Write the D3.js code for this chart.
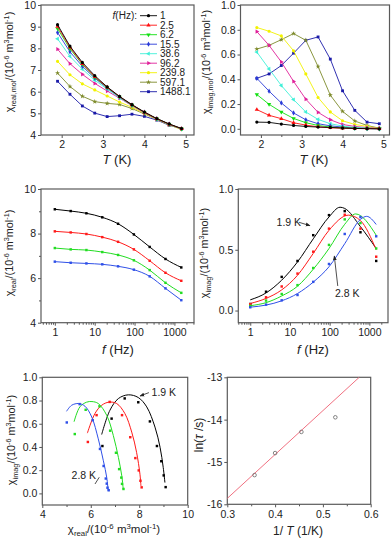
<!DOCTYPE html>
<html>
<head>
<meta charset="utf-8">
<script src="https://cdn.jsdelivr.net/npm/d3@7"></script>
<style>
  body { margin: 0; background: #fff; }
  svg { display: block; font-family: "Liberation Sans", Arial, sans-serif; }
</style>
</head>
<body>
<svg id="chart" width="391" height="542"></svg>
<script>
// ---------------- data ----------------
const tempsK = [1.9, 2.2, 2.5, 2.8, 3.1, 3.4, 3.7, 4.0, 4.3, 4.6, 4.9];
const freqsHz = [1, 2.5, 6.2, 15.5, 38.6, 96.2, 239.8, 597.1, 1488.1];
const freqLabels = ["1", "2.5", "6.2", "15.5", "38.6", "96.2", "239.8", "597.1", "1488.1"];

// chi' (10^-6 m3/mol), one row per frequency, columns follow tempsK
const chiRealByFreq = [
  [9.09, 8.10, 7.35, 6.74, 6.22, 5.78, 5.40, 5.06, 4.76, 4.51, 4.30],
  [9.01, 8.05, 7.29, 6.69, 6.20, 5.77, 5.39, 5.05, 4.75, 4.50, 4.29],
  [8.91, 7.98, 7.26, 6.66, 6.19, 5.76, 5.38, 5.05, 4.75, 4.50, 4.29],
  [8.73, 7.84, 7.17, 6.62, 6.17, 5.75, 5.38, 5.05, 4.75, 4.50, 4.28],
  [8.44, 7.63, 7.04, 6.53, 6.12, 5.72, 5.37, 5.04, 4.74, 4.48, 4.28],
  [7.96, 7.29, 6.80, 6.38, 6.03, 5.70, 5.35, 5.02, 4.73, 4.48, 4.28],
  [7.40, 6.78, 6.36, 6.08, 5.80, 5.52, 5.28, 5.00, 4.72, 4.47, 4.25],
  [6.86, 6.24, 5.79, 5.54, 5.46, 5.41, 5.22, 4.97, 4.72, 4.47, 4.28],
  [6.48, 5.88, 5.34, 5.01, 4.85, 4.89, 4.96, 4.86, 4.69, 4.45, 4.29]
];

// chi'' (10^-6 m3/mol), one row per frequency
const chiImagByFreq = [
  [0.054, 0.052, 0.038, 0.027, 0.019, 0.014, 0.011, 0.006, 0.003, 0.001, 0.000],
  [0.155, 0.109, 0.082, 0.049, 0.030, 0.016, 0.008, 0.005, 0.003, 0.002, 0.001],
  [0.277, 0.198, 0.136, 0.084, 0.049, 0.027, 0.014, 0.008, 0.004, 0.003, 0.001],
  [0.408, 0.304, 0.209, 0.128, 0.073, 0.041, 0.024, 0.014, 0.005, 0.002, 0.000],
  [0.620, 0.484, 0.350, 0.236, 0.136, 0.076, 0.041, 0.022, 0.011, 0.005, 0.002],
  [0.785, 0.674, 0.540, 0.383, 0.239, 0.133, 0.073, 0.035, 0.019, 0.010, 0.003],
  [0.818, 0.788, 0.750, 0.630, 0.443, 0.253, 0.136, 0.065, 0.035, 0.020, 0.003],
  [0.644, 0.674, 0.720, 0.769, 0.715, 0.503, 0.272, 0.141, 0.063, 0.027, 0.005],
  [0.408, 0.443, 0.511, 0.611, 0.715, 0.742, 0.563, 0.307, 0.149, 0.054, 0.041]
];

// temperatures used in the frequency and Cole-Cole panels (column index into tempsK)
const lowTempIdx = [0, 1, 2, 3];

// fitted chi'' vs f curves, [f, chi'']
const fitImagVsF = [
  [[1, 0.088], [2.5, 0.145], [6.2, 0.25], [15.5, 0.40], [38.6, 0.59], [96.2, 0.77], [183, 0.85], [239.8, 0.84], [597.1, 0.69], [1488.1, 0.51]],
  [[1, 0.058], [2.5, 0.10], [6.2, 0.17], [15.5, 0.29], [38.6, 0.47], [96.2, 0.66], [298, 0.785], [597.1, 0.74], [1488.1, 0.50]],
  [[1, 0.04], [2.5, 0.065], [6.2, 0.12], [15.5, 0.20], [38.6, 0.34], [96.2, 0.51], [239.8, 0.71], [450, 0.795], [1488.1, 0.62]],
  [[1, 0.028], [2.5, 0.045], [6.2, 0.08], [15.5, 0.14], [38.6, 0.234], [96.2, 0.36], [239.8, 0.55], [597.1, 0.75], [855, 0.775], [1488.1, 0.708]]
];

// fitted Cole-Cole arcs, [chi', chi'']
const fitColeCole = [
  [[6.45, 0.507], [6.79, 0.716], [7.14, 0.817], [7.55, 0.849], [7.96, 0.826], [8.31, 0.745], [8.65, 0.571], [8.86, 0.397], [8.99, 0.223], [9.06, 0.093]],
  [[5.86, 0.519], [6.17, 0.687], [6.45, 0.759], [6.75, 0.786], [7.07, 0.774], [7.41, 0.687], [7.69, 0.528], [7.89, 0.354], [8.03, 0.165], [8.07, 0.064]],
  [[5.31, 0.617], [5.55, 0.745], [5.83, 0.786], [6.05, 0.791], [6.31, 0.774], [6.66, 0.672], [6.93, 0.499], [7.14, 0.31], [7.28, 0.151], [7.34, 0.035]],
  [[5.0, 0.707], [5.21, 0.759], [5.5, 0.774], [5.76, 0.751], [6.04, 0.658], [6.31, 0.47], [6.52, 0.281], [6.66, 0.136], [6.72, 0.02]]
];

// Arrhenius plot
const invT = [0.357, 0.400, 0.455, 0.526];
const lnTau = [-15.31, -14.79, -14.29, -13.945];
const arrheniusX = [0.30, 0.576];
const arrheniusY = [-15.86, -13.0];

// ---------------- styles ----------------
const freqColors = ["#000000", "#ff1010", "#10e010", "#2a3bd8", "#40f0d8", "#e0209a", "#f2f200", "#7d8a2a", "#1a1aa8"];
const freqSymbols = [d3.symbolCircle, d3.symbolTriangle, d3.symbolTriangle, d3.symbolDiamond, d3.symbolTriangle,
                     d3.symbolTriangle, d3.symbolCircle, d3.symbolStar, d3.symbolSquare];
const freqSymRot = [0, 0, 180, 0, -90, 90, 0, 0, 0];
const tempColors = ["#000000", "#ff1a1a", "#22dd22", "#2f50e8"];

const svg = d3.select("#chart");
const TICK_FS = 10.5, TITLE_FS = 10.8;

const defs = svg.append("defs");
defs.append("marker").attr("id", "arrow")
  .attr("viewBox", "0 0 10 10").attr("refX", 9).attr("refY", 5)
  .attr("markerWidth", 6).attr("markerHeight", 6).attr("orient", "auto")
  .append("path").attr("d", "M0,1L10,5L0,9z").attr("fill", "#222");

// rich text: parts = [[string, kind]] kind: sub | sup | i
function rich(text, parts, fs) {
  let shift = 0;
  parts.forEach(([s, kind]) => {
    const t = text.append("tspan").text(s);
    const target = kind === "sub" ? fs * 0.28 : kind === "sup" ? -fs * 0.38 : 0;
    t.attr("dy", target - shift);
    shift = target;
    if (kind === "sub" || kind === "sup") t.attr("font-size", fs * 0.68);
    if (kind === "i") t.attr("font-style", "italic");
  });
}

function yTitle(x, y, parts, fs = TITLE_FS) {
  const t = svg.append("text")
    .attr("transform", `translate(${x},${y}) rotate(-90)`)
    .attr("text-anchor", "middle").attr("font-size", fs).attr("fill", "#222");
  rich(t, parts, fs);
}

function xTitle(x, y, parts, fs = TITLE_FS) {
  const t = svg.append("text").attr("x", x).attr("y", y)
    .attr("text-anchor", "middle").attr("font-size", fs).attr("fill", "#222");
  rich(t, parts, fs);
}

function styleAxis(g) {
  g.select(".domain").remove();
  g.selectAll(".tick line").attr("stroke", "#555");
  g.selectAll(".tick text").attr("font-size", TICK_FS).attr("fill", "#222")
    .attr("font-family", "Liberation Sans, Arial, sans-serif");
}

function panel(box, x, y, o) {
  svg.append("g").attr("transform", `translate(0,${box.b})`)
    .call(d3.axisBottom(x).tickValues(o.xTicks).tickSize(3).tickPadding(3).tickFormat(o.xFmt || (d => d)))
    .call(styleAxis);
  if (o.xMinor) svg.append("g").attr("transform", `translate(0,${box.b})`)
    .call(d3.axisBottom(x).tickValues(o.xMinor).tickSize(2).tickFormat(""))
    .call(styleAxis);
  svg.append("g").attr("transform", `translate(${box.l},0)`)
    .call(d3.axisLeft(y).tickValues(o.yTicks).tickSize(3).tickPadding(2).tickFormat(o.yFmt || (d => d)))
    .call(styleAxis);
  if (o.yMinor) svg.append("g").attr("transform", `translate(${box.l},0)`)
    .call(d3.axisLeft(y).tickValues(o.yMinor).tickSize(2).tickFormat(""))
    .call(styleAxis);
  svg.append("rect").attr("x", box.l).attr("y", box.t)
    .attr("width", box.r - box.l).attr("height", box.b - box.t)
    .attr("fill", "none").attr("stroke", "#5a5a5a").attr("stroke-width", 1.2);
  return svg.append("g");
}

function logMinor(lo, hi) {
  const out = [];
  for (let e = -1; e <= 3; e++) for (let m = 2; m <= 9; m++) {
    const v = m * Math.pow(10, e);
    if (v >= lo && v <= hi) out.push(v);
  }
  return out;
}

function marker(g, sym, rot, size, color, px, py) {
  g.append("path")
    .attr("d", d3.symbol(sym, size)())
    .attr("transform", `translate(${px},${py}) rotate(${rot})`)
    .attr("fill", color);
}

// lines + markers vs temperature; drawn high frequency first so low ones sit on top
function drawTSeries(g, x, y, rows) {
  for (let i = rows.length - 1; i >= 0; i--) {
    const pts = rows[i].map((v, j) => [tempsK[j], v]);
    g.append("path")
      .attr("d", d3.line().x(d => x(d[0])).y(d => y(d[1]))(pts))
      .attr("fill", "none").attr("stroke", freqColors[i]).attr("stroke-width", 0.9);
    pts.forEach(d => marker(g, freqSymbols[i], freqSymRot[i], 8, freqColors[i], x(d[0]), y(d[1])));
  }
}

const f1 = d3.format(".1f");
const chiUnit = [["/(10"], ["-6", "sup"], [" m"], ["3", "sup"], ["mol"], ["-1", "sup"], [")"]];

// ---------------- panel 1: chi' vs T ----------------
const b1 = { l: 41, r: 194, t: 5, b: 135 };
const x1 = d3.scaleLinear([1.5, 5.2], [b1.l, b1.r]);
const y1 = d3.scaleLinear([4, 10], [b1.b, b1.t]);
const g1 = panel(b1, x1, y1, { xTicks: [2, 3, 4, 5], xMinor: [2.5, 3.5, 4.5], yTicks: [4, 5, 6, 7, 8, 9, 10] });
drawTSeries(g1, x1, y1, chiRealByFreq);

// legend
const lg = svg.append("g").attr("font-size", 10).attr("fill", "#222");
const lgT = lg.append("text").attr("x", 137).attr("y", 19.3).attr("text-anchor", "end");
rich(lgT, [["f", "i"], ["(Hz):"]], 10.5);
freqLabels.forEach((lab, i) => {
  const yy = 15.7 + i * 9.5;
  lg.append("line").attr("x1", 140).attr("x2", 157).attr("y1", yy).attr("y2", yy)
    .attr("stroke", freqColors[i]).attr("stroke-width", 0.9);
  marker(lg, freqSymbols[i], freqSymRot[i], 8, freqColors[i], 148.5, yy);
  lg.append("text").attr("x", 160).attr("y", yy + 3.6).text(lab);
});

yTitle(13, 62, [["χ"], ["real,mol", "sub"], ...chiUnit]);
xTitle(117, 164, [["T", "i"], [" (K)"]], 13);

// ---------------- panel 2: chi'' vs T ----------------
const b2 = { l: 240.5, r: 389.5, t: 5, b: 135 };
const x2 = d3.scaleLinear([1.5, 5.15], [b2.l, b2.r]);
const y2 = d3.scaleLinear([-0.05, 1.0], [b2.b, b2.t]);
const g2 = panel(b2, x2, y2, { xTicks: [2, 3, 4, 5], xMinor: [2.5, 3.5, 4.5], yTicks: [0, 0.2, 0.4, 0.6, 0.8, 1.0], yFmt: f1 });
drawTSeries(g2, x2, y2, chiImagByFreq);
yTitle(210, 62, [["χ"], ["imag,mol", "sub"], ...chiUnit]);
xTitle(314, 164, [["T", "i"], [" (K)"]], 13);

// ---------------- panel 3: chi' vs f ----------------
const b3 = { l: 41, r: 194, t: 189, b: 322.7 };
const x3 = d3.scaleLog([0.45, 3100], [b3.l, b3.r]);
const y3 = d3.scaleLinear([4, 10], [b3.b, b3.t]);
const g3 = panel(b3, x3, y3, { xTicks: [1, 10, 100, 1000], xMinor: logMinor(0.45, 3100), yTicks: [4, 6, 8, 10], yMinor: [5, 7, 9] });
lowTempIdx.forEach((ti, k) => {
  const pts = freqsHz.map((f, i) => [f, chiRealByFreq[i][ti]]);
  g3.append("path")
    .attr("d", d3.line().curve(d3.curveMonotoneX).x(d => x3(d[0])).y(d => y3(d[1]))(pts))
    .attr("fill", "none").attr("stroke", tempColors[k]).attr("stroke-width", 1);
  pts.forEach(d => marker(g3, d3.symbolSquare, 0, 6, tempColors[k], x3(d[0]), y3(d[1])));
});
yTitle(13, 253, [["χ"], ["real", "sub"], ...chiUnit]);
xTitle(118, 354, [["f", "i"], [" (Hz)"]], 13);

// ---------------- panel 4: chi'' vs f ----------------
const b4 = { l: 238.3, r: 388, t: 189, b: 322.7 };
const x4 = d3.scaleLog([0.5, 2950], [b4.l, b4.r]);
const y4 = d3.scaleLinear([-0.1, 1.0], [b4.b, b4.t]);
const g4 = panel(b4, x4, y4, { xTicks: [1, 10, 100, 1000], xMinor: logMinor(0.5, 2950), yTicks: [0, 0.5, 1.0], yFmt: f1 });
lowTempIdx.forEach((ti, k) => {
  g4.append("path")
    .attr("d", d3.line().curve(d3.curveMonotoneX).x(d => x4(d[0])).y(d => y4(d[1]))(fitImagVsF[k]))
    .attr("fill", "none").attr("stroke", tempColors[k]).attr("stroke-width", 1);
});
lowTempIdx.forEach((ti, k) => {
  freqsHz.forEach((f, i) => marker(g4, d3.symbolSquare, 0, 6, tempColors[k], x4(f), y4(chiImagByFreq[i][ti])));
});
svg.append("text").attr("x", x4(4.6)).attr("y", y4(0.726) + 4).attr("font-size", 10.5).attr("fill", "#222").text("1.9 K");
svg.append("line").attr("x1", x4(17)).attr("y1", y4(0.726)).attr("x2", x4(32)).attr("y2", y4(0.698))
  .attr("stroke", "#222").attr("stroke-width", 0.8).attr("marker-end", "url(#arrow)");
svg.append("text").attr("x", x4(136)).attr("y", y4(0.142) + 4).attr("font-size", 10.5).attr("fill", "#222").text("2.8 K");
svg.append("line").attr("x1", x4(160)).attr("y1", y4(0.202)).attr("x2", x4(131)).attr("y2", y4(0.449))
  .attr("stroke", "#222").attr("stroke-width", 0.8).attr("marker-end", "url(#arrow)");
yTitle(208, 253, [["χ"], ["imag", "sub"], ...chiUnit]);
xTitle(313, 354, [["f", "i"], [" (Hz)"]], 13);

// ---------------- panel 5: Cole-Cole ----------------
const b5 = { l: 42.3, r: 187.7, t: 377.3, b: 505 };
const x5 = d3.scaleLinear([4, 10], [b5.l, b5.r]);
const y5 = d3.scaleLinear([-0.1, 1.0], [b5.b, b5.t]);
const g5 = panel(b5, x5, y5, { xTicks: [4, 6, 8, 10], xMinor: [5, 7, 9], yTicks: [0, 0.2, 0.4, 0.6, 0.8, 1.0], yFmt: f1 });
lowTempIdx.forEach((ti, k) => {
  g5.append("path")
    .attr("d", d3.line().curve(d3.curveCatmullRom).x(d => x5(d[0])).y(d => y5(d[1]))(fitColeCole[k]))
    .attr("fill", "none").attr("stroke", tempColors[k]).attr("stroke-width", 1);
  freqsHz.forEach((f, i) => marker(g5, d3.symbolSquare, 0, 6, tempColors[k], x5(chiRealByFreq[i][ti]), y5(chiImagByFreq[i][ti])));
});
svg.append("text").attr("x", x5(8.51)).attr("y", y5(0.871) + 4).attr("font-size", 10.5).attr("fill", "#222").text("1.9 K");
svg.append("line").attr("x1", x5(8.40)).attr("y1", y5(0.868)).attr("x2", x5(8.03)).attr("y2", y5(0.839))
  .attr("stroke", "#222").attr("stroke-width", 0.8).attr("marker-end", "url(#arrow)");
svg.append("text").attr("x", x5(5.21)).attr("y", y5(0.158) + 4).attr("font-size", 10.5).attr("fill", "#222").text("2.8 K");
svg.append("line").attr("x1", x5(6.175)).attr("y1", y5(0.081)).attr("x2", x5(6.35)).attr("y2", y5(0.139))
  .attr("stroke", "#222").attr("stroke-width", 0.8);
yTitle(15, 440, [["χ"], ["imag", "sub"], ...chiUnit]);
xTitle(114, 533, [["χ"], ["real", "sub"], ...chiUnit], 11.5);

// ---------------- panel 6: Arrhenius ----------------
const b6 = { l: 227.3, r: 370.7, t: 377.3, b: 504.3 };
const x6 = d3.scaleLinear([0.3, 0.6], [b6.l, b6.r]);
const y6 = d3.scaleLinear([-16, -13], [b6.b, b6.t]);
const g6 = panel(b6, x6, y6, { xTicks: [0.3, 0.4, 0.5, 0.6], xMinor: [0.35, 0.45, 0.55], xFmt: f1, yTicks: [-16, -15, -14, -13], yFmt: d => String(d) });
g6.append("path")
  .attr("d", d3.line().x((d, i) => x6(arrheniusX[i])).y((d, i) => y6(arrheniusY[i]))(arrheniusX))
  .attr("fill", "none").attr("stroke", "#f07080").attr("stroke-width", 1);
invT.forEach((v, i) => {
  g6.append("circle").attr("cx", x6(v)).attr("cy", y6(lnTau[i])).attr("r", 1.8)
    .attr("fill", "none").attr("stroke", "#666").attr("stroke-width", 0.8);
});
yTitle(203, 435, [["ln("], ["τ", "i"], [" /s)"]], 12);
xTitle(298, 535, [["1/ "], ["T", "i"], [" (1/K)"]], 12);
</script>
</body>
</html>
